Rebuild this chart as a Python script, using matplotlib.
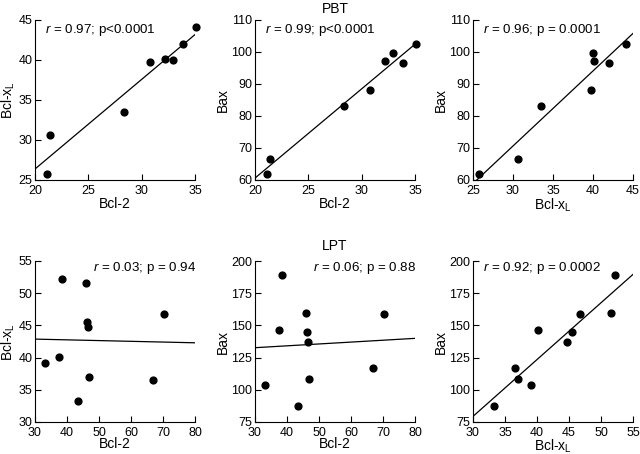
import numpy as np
import matplotlib
matplotlib.use("Agg")
import matplotlib.pyplot as plt

plt.rcParams['font.family'] = ['Liberation Sans', 'DejaVu Sans']
plt.rcParams['mathtext.fontset'] = 'custom'
plt.rcParams['mathtext.rm'] = 'Liberation Sans'
plt.rcParams['mathtext.it'] = 'Liberation Sans:italic'

# PBT datos
pbt_bcl2 = [21.1, 21.4, 28.3, 30.8, 32.2, 32.9, 33.9, 35.1]
pbt_bclxl = [25.8, 30.6, 33.5, 39.7, 40.1, 40.0, 42.0, 44.1]
pbt_bax = [61.9, 66.6, 83.1, 88.2, 97.3, 99.7, 96.6, 102.5]

# LPT datos
lpt_bcl2 = [33.0, 37.4, 38.4, 43.5, 46.0, 46.3, 46.7, 47.0, 67.0, 70.4]
lpt_bclxl = [39.1, 40.1, 52.2, 33.3, 51.6, 45.5, 44.7, 37.0, 36.5, 46.7]
lpt_bax = [103.4, 146.5, 189.1, 87.2, 159.6, 145.2, 137.3, 108.6, 116.6, 158.9]

stats = ["r = 0.97; p<0.0001", "r = 0.99; p<0.0001", "r = 0.96; p = 0.0001",
         "r = 0.03; p = 0.94", "r = 0.06; p = 0.88", "r = 0.92; p = 0.0002"]

xl = "Bcl-x$_\\mathregular{L}$"

paneles = [
    (pbt_bcl2, pbt_bclxl, "Bcl-2", xl, (20, 35), [20, 25, 30, 35], (25, 45), [25, 30, 35, 40, 45]),
    (pbt_bcl2, pbt_bax, "Bcl-2", "Bax", (20, 35), [20, 25, 30, 35], (60, 110), [60, 70, 80, 90, 100, 110]),
    (pbt_bclxl, pbt_bax, xl, "Bax", (25, 45), [25, 30, 35, 40, 45], (60, 110), [60, 70, 80, 90, 100, 110]),
    (lpt_bcl2, lpt_bclxl, "Bcl-2", xl, (30, 80), [30, 40, 50, 60, 70, 80], (30, 55), [30, 35, 40, 45, 50, 55]),
    (lpt_bcl2, lpt_bax, "Bcl-2", "Bax", (30, 80), [30, 40, 50, 60, 70, 80], (75, 200), [75, 100, 125, 150, 175, 200]),
    (lpt_bclxl, lpt_bax, xl, "Bax", (30, 55), [30, 35, 40, 45, 50, 55], (75, 200), [75, 100, 125, 150, 175, 200]),
]

W, H = 640, 454
lefts = [35, 255, 473]
fig = plt.figure(figsize=(6.4, 4.54), dpi=100)

for i, (x, y, xlab, ylab, xlim, xt, ylim, yt) in enumerate(paneles):
    fila = i // 3
    col = i % 3
    if fila == 0:
        top, bot = 20, 180
    else:
        top, bot = 261, 422
    ax = fig.add_axes([lefts[col] / W, 1 - bot / H, 160 / W, (bot - top) / H])
    ax.scatter(x, y, s=24, color='black', zorder=3, clip_on=False)
    m, b = np.polyfit(x, y, 1)
    xs = np.array(xlim)
    ax.plot(xs, m * xs + b, color='black', lw=0.9)
    ax.set_xlim(xlim)
    ax.set_ylim(ylim)
    ax.set_xticks(xt)
    ax.set_yticks(yt)
    for s in ['top', 'right']:
        ax.spines[s].set_visible(False)
    for s in ['left', 'bottom']:
        ax.spines[s].set_linewidth(0.8)
    ax.tick_params(direction='in', length=4, width=0.8, labelsize=9)
    ax.tick_params(axis='x', pad=3.5)
    ax.tick_params(axis='y', pad=2)
    ax.set_xlabel(xlab, fontsize=10, labelpad=0 if fila == 0 else -1)
    ax.set_ylabel(ylab, fontsize=10, labelpad=1)
    r_txt = "$\\it{r}$" + stats[i][1:]
    if i in (3, 4):
        ax.text(1.01, 0.955, r_txt, transform=ax.transAxes, ha='right', va='center', fontsize=9.6)
    else:
        ax.text(0.06, 0.94 if fila == 0 else 0.955, r_txt, transform=ax.transAxes, ha='left', va='center', fontsize=9.6)
    if i == 1:
        ax.set_title("PBT", fontsize=10, pad=5)
    if i == 4:
        ax.set_title("LPT", fontsize=10, pad=8)

fig.savefig("out.png", dpi=100)
